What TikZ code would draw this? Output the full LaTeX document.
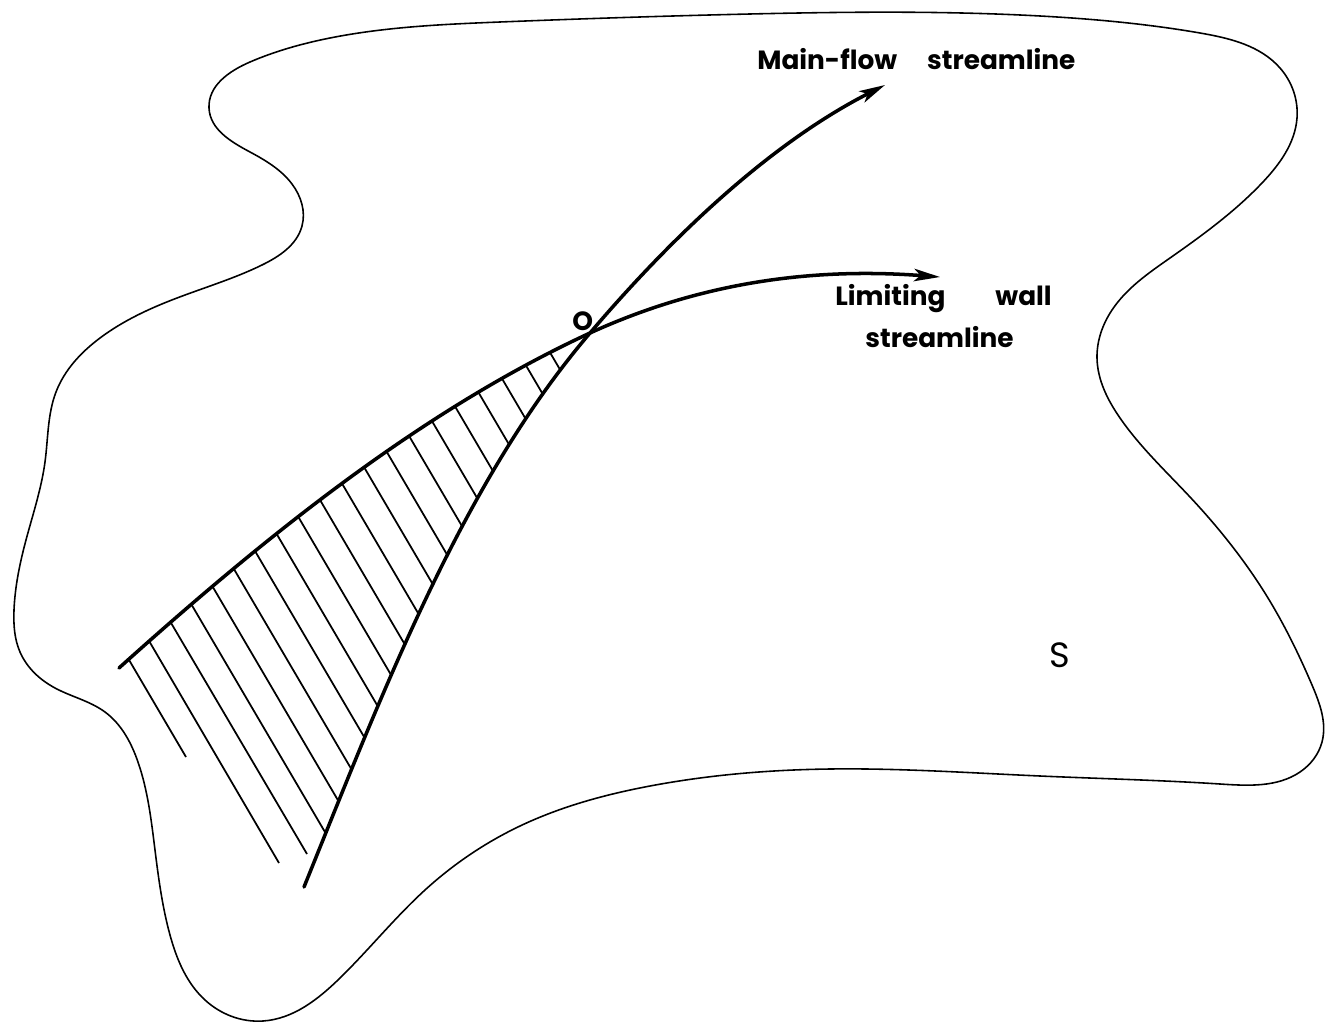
\documentclass[tikz,border=0pt]{standalone}
\usepackage{fontspec}
\setmainfont{Poppins}
\usetikzlibrary{arrows.meta,calc,hobby}
\begin{document}
\begin{tikzpicture}[x=0.02cm,y=-0.02cm,
  outline/.style={line width=0.9pt, line join=round},
  stream/.style={line width=2pt, line cap=round},
  hatchline/.style={line width=1pt},
  tip/.style={-{Stealth[length=0.52cm,width=0.25cm,inset=0.13cm]}},
  lab/.style={inner sep=0pt, anchor=base west, font=\fontsize{15}{18}\selectfont\bfseries}]
\useasboundingbox (0,0) rectangle (1325,1024);
\coordinate (O) at (590,333);
\coordinate (mfS) at (304,887);
\coordinate (mfE) at (885,85);
\coordinate (lwS) at (119,668);
\coordinate (lwE) at (940,277);

% surface outline
\draw[outline, use Hobby shortcut, closed=true]
 (209,108) .. (250,62) .. (330,38) .. (500,22) .. (750,14) .. (1040,16)
 .. (1200,33) .. (1280,68) .. (1297,118) .. (1262,183) .. (1170,258)
 .. (1112,310) .. (1097,358) .. (1120,418) .. (1190,497) .. (1268,598)
 .. (1312,685) .. (1322,742) .. (1300,772) .. (1220,784) .. (1040,776)
 .. (830,769) .. (650,786) .. (520,826) .. (425,890) .. (340,978)
 .. (263,1021) .. (205,1000) .. (170,935) .. (155,850) .. (138,762)
 .. (105,712) .. (55,688) .. (20,652) .. (14,610) .. (26,540)
 .. (45,462) .. (56,392) .. (100,338) .. (177,298) .. (262,265)
 .. (302,226) .. (292,184) .. (250,152);

% hatching
\begin{scope}
\clip (lwS) .. controls (279,524) and (430,407) .. (O)
      .. controls (460,485) and (379,702) .. (mfS) -- (290,915) -- (90,700) -- cycle;
\foreach \k in {3,...,19}
  \draw[hatchline] ($(132,665)+\k*(23.53,-13.84)+(-152,-259)$) -- ++(456,777);
\draw[hatchline] (-20,406) -- (186,757);
\draw[hatchline] (3.5,392.2) -- (279,863);
\draw[hatchline] (27.1,378.3) -- (307,854);
\end{scope}

% streamlines
\draw[stream, tip] (mfS) .. controls (379,702) and (460,485) .. (O)
      .. controls (673,235.5) and (771,143) .. (mfE);
\draw[stream, tip] (lwS) .. controls (279,524) and (430,407) .. (O)
      .. controls (708,279) and (822,268) .. (lwE);

% labels
\node[lab] (mf) at (757,70) {Main-flow\hspace{0.6cm}streamline};
\node[lab] (lw1) at (835,305) {Limiting\hspace{1.0cm}wall};
\node[lab] (lw2) at (865,347) {streamline};
\node[lab] (o) at (572,330) {O};
\node[lab, font=\fontsize{20}{24}\selectfont] (s) at (1049,667) {S};
\end{tikzpicture}
\end{document}
